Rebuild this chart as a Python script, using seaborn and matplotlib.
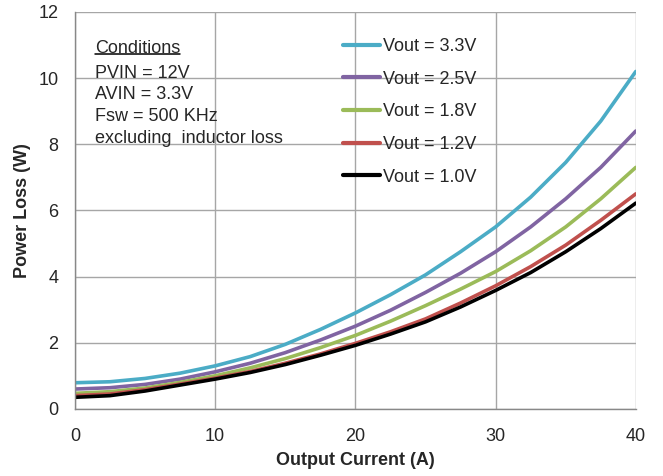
import matplotlib as mpl
import matplotlib.pyplot as plt
import seaborn as sns
import pandas as pd
import numpy as np

# output current (A)
current = [0, 2.5, 5, 7.5, 10, 12.5, 15, 17.5, 20, 22.5, 25, 27.5, 30, 32.5, 35, 37.5, 40]

# power loss (W)
loss_33 = [0.79, 0.82, 0.92, 1.08, 1.30, 1.58, 1.95, 2.40, 2.90, 3.45, 4.05, 4.75, 5.50, 6.40, 7.45, 8.70, 10.20]
loss_25 = [0.60, 0.64, 0.74, 0.90, 1.12, 1.38, 1.70, 2.08, 2.50, 2.98, 3.52, 4.10, 4.75, 5.50, 6.35, 7.30, 8.40]
loss_18 = [0.47, 0.52, 0.63, 0.80, 1.00, 1.24, 1.52, 1.85, 2.22, 2.65, 3.12, 3.62, 4.15, 4.78, 5.50, 6.35, 7.30]
loss_12 = [0.40, 0.45, 0.58, 0.75, 0.93, 1.13, 1.38, 1.66, 1.98, 2.33, 2.72, 3.20, 3.72, 4.30, 4.95, 5.70, 6.50]
loss_10 = [0.35, 0.40, 0.54, 0.72, 0.90, 1.10, 1.34, 1.62, 1.92, 2.26, 2.63, 3.08, 3.58, 4.12, 4.75, 5.45, 6.22]

series = ['Vout = 3.3V', 'Vout = 2.5V', 'Vout = 1.8V', 'Vout = 1.2V', 'Vout = 1.0V']
colors = ['#4BACC6', '#8064A2', '#9BBB59', '#C0504D', '#000000']

conditions = ['PVIN = 12V', 'AVIN = 3.3V', 'Fsw = 500 KHz', 'excluding  inductor loss']

frames = []
for name, vals in zip(series, [loss_33, loss_25, loss_18, loss_12, loss_10]):
    frames.append(pd.DataFrame({'I': current, 'P': vals, 'Vout': name}))
data = pd.concat(frames, ignore_index=True)

sns.set_style('white')
plt.rcParams['font.family'] = ['Liberation Sans', 'DejaVu Sans']

fig = plt.figure(figsize=(6.63, 4.76), dpi=100)
ax = fig.add_axes([0.113, 0.141, 0.846, 0.834])

sns.lineplot(data=data, x='I', y='P', hue='Vout', hue_order=series,
             palette=colors, linewidth=2.6, ax=ax)

ax.set_xlim(0, 40)
ax.set_ylim(0, 12)
ax.set_xticks([0, 10, 20, 30, 40])
ax.set_yticks(np.arange(0, 13, 2))
ax.grid(True, color='#a6a6a6', linewidth=1)
ax.set_axisbelow(True)
for s in ['top', 'right']:
    ax.spines[s].set_visible(False)
for s in ['left', 'bottom']:
    ax.spines[s].set_color('#888888')
    ax.spines[s].set_linewidth(1)
ax.tick_params(axis='x', direction='out', length=5, color='#888888',
               labelsize=13, pad=9)
ax.tick_params(axis='y', direction='out', length=5, color='#888888',
               labelsize=13, pad=7)

ax.set_xlabel('Output Current (A)', fontsize=13, fontweight='bold', labelpad=5)
ax.set_ylabel('Power Loss (W)', fontsize=13, fontweight='bold', labelpad=5)

leg = ax.legend(loc='upper left', bbox_to_anchor=(0.449, 0.975), frameon=False,
                fontsize=13, handlelength=2.05, handletextpad=0.15, labelspacing=0.865)
for line in leg.get_lines():
    line.set_linewidth(3)

t = ax.text(0.036, 0.909, 'Conditions', transform=ax.transAxes, fontsize=13,
            va='center', ha='left')
for i, line_txt in enumerate(conditions):
    ax.text(0.036, 0.846 - i * 0.055, line_txt, transform=ax.transAxes,
            fontsize=13, va='center', ha='left')

# underline for the "Conditions" heading
fig.canvas.draw()
bb = t.get_window_extent().transformed(ax.transAxes.inverted())
ax.plot([bb.x0, bb.x1], [bb.y0 + 0.006, bb.y0 + 0.006], transform=ax.transAxes,
        color='black', linewidth=1.1, clip_on=False)

plt.savefig('out.png', dpi=100)
